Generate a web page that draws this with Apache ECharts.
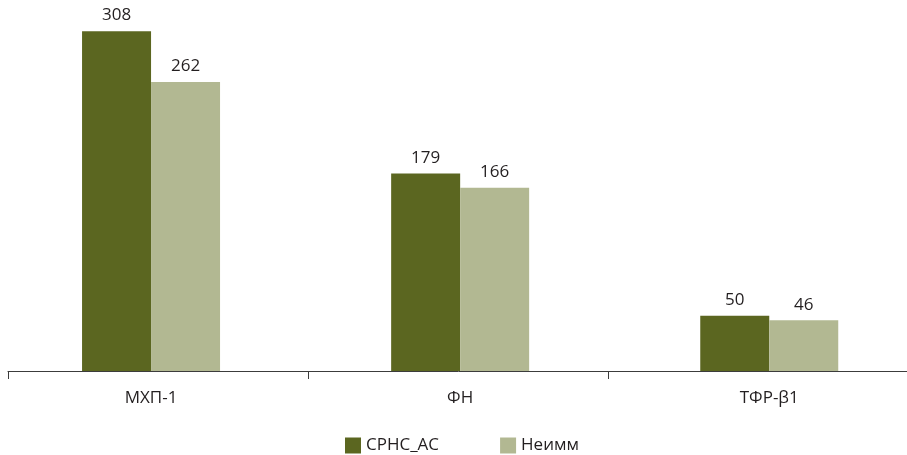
<!DOCTYPE html>
<html>
<head>
<meta charset="utf-8">
<script src="https://cdn.jsdelivr.net/npm/echarts@6/dist/echarts.min.js"></script>
<style>
  html, body { margin: 0; padding: 0; background: #fff; overflow: hidden; }
  /* the canvas runs a few pixels past both page edges so the outer bars get their full slot */
  #chart { position: absolute; left: -4px; top: 0; width: 928px; height: 455px; }
</style>
</head>
<body>
<div id="chart"></div>
<script>
// Categories and series values
const categories = ['МХП-1', 'ФН', 'ТФР-β1'];
const seriesNames = ['СРНС_АС', 'Неимм'];
const srnsValues = [308, 179, 50];
const neimmValues = [262, 166, 46];

const FONT = '"Open Sans", "Noto Sans", sans-serif';
const TEXT = '#231f20';
const colors = ['#5b6620', '#b2b892'];

const chart = echarts.init(document.getElementById('chart'), null, { renderer: 'canvas' });

const labelStyle = {
  show: true,
  position: 'top',
  distance: 7,
  color: TEXT,
  fontFamily: FONT,
  fontSize: 17
};

chart.setOption({
  animation: false,
  backgroundColor: '#ffffff',
  textStyle: { fontFamily: FONT },
  legend: {
    data: seriesNames,
    left: 349,
    top: 437,
    padding: 0,
    icon: 'rect',
    itemWidth: 16,
    itemHeight: 16,
    itemGap: 61,
    textStyle: { color: TEXT, fontFamily: FONT, fontSize: 17, lineHeight: 16 }
  },
  grid: [
    // bars and category labels
    { left: 0.5, width: 927.3, top: 19, height: 352 },
    // baseline with boundary ticks
    { left: 12, width: 901, top: 19, height: 352 }
  ],
  xAxis: [
    {
      type: 'category',
      gridIndex: 0,
      data: categories,
      axisLine: { show: false },
      axisTick: { show: false },
      axisLabel: { color: TEXT, fontFamily: FONT, fontSize: 17, margin: 19 }
    },
    {
      type: 'category',
      gridIndex: 1,
      data: categories,
      axisLine: { show: true, lineStyle: { color: '#3c3c3c', width: 1 } },
      axisTick: { show: true, length: 8, lineStyle: { color: '#3c3c3c', width: 1 } },
      axisLabel: { show: false }
    }
  ],
  yAxis: [
    { type: 'value', gridIndex: 0, min: 0, max: 319, show: false, splitLine: { show: false } },
    { type: 'value', gridIndex: 1, min: 0, max: 319, show: false, splitLine: { show: false } }
  ],
  series: [
    {
      name: seriesNames[0],
      type: 'bar',
      xAxisIndex: 0,
      yAxisIndex: 0,
      data: srnsValues,
      barWidth: 69,
      barGap: '0%',
      itemStyle: { color: colors[0] },
      label: labelStyle
    },
    {
      name: seriesNames[1],
      type: 'bar',
      xAxisIndex: 0,
      yAxisIndex: 0,
      data: neimmValues,
      barWidth: 69,
      barGap: '0%',
      itemStyle: { color: colors[1] },
      label: labelStyle
    }
  ]
});
</script>
</body>
</html>
